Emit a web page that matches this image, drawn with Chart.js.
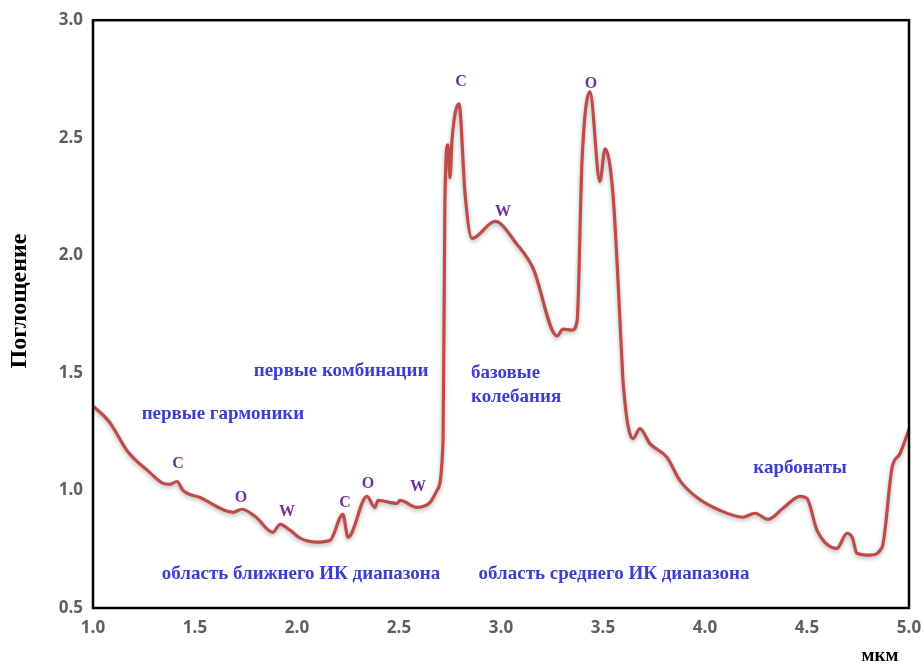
<!DOCTYPE html>
<html>
<head>
<meta charset="utf-8">
<script src="https://cdn.jsdelivr.net/npm/chart.js@4"></script>
<style>
  html, body { margin: 0; padding: 0; background: #fff; }
  #wrap { width: 924px; height: 665px; }
</style>
</head>
<body>
<div id="wrap"><canvas id="grafica" width="924" height="665"></canvas></div>
<script>
// Спектр поглощения, значения
const wavelength = [1.0, 1.083, 1.167, 1.279, 1.343, 1.377, 1.412, 1.441, 1.525, 1.686, 1.73, 1.794, 1.882, 1.917, 1.966, 2.015, 2.098, 2.162,
  2.225, 2.25, 2.343, 2.382, 2.397, 2.49, 2.505, 2.588, 2.652, 2.686, 2.716, 2.725, 2.74, 2.75, 2.76, 2.794, 2.824, 2.858, 2.971, 3.078,
  3.157, 3.275, 3.304, 3.348, 3.373, 3.397, 3.436, 3.485, 3.51, 3.549, 3.593, 3.598, 3.647, 3.681, 3.73, 3.814, 3.877, 3.961, 4.074,
  4.186, 4.245, 4.309, 4.382, 4.466, 4.5, 4.549, 4.647, 4.696, 4.721, 4.745, 4.809, 4.868, 4.917, 4.956, 5.0];
const absorbance = [1.36, 1.288, 1.169, 1.076, 1.03, 1.026, 1.038, 1.0, 0.97, 0.907, 0.92, 0.89, 0.822, 0.856, 0.831, 0.797, 0.78, 0.788,
  0.898, 0.801, 0.975, 0.928, 0.958, 0.945, 0.958, 0.928, 0.949, 1.0, 1.212, 2.229, 2.47, 2.33, 2.492, 2.644, 2.258, 2.072, 2.144, 2.047,
  1.945, 1.657, 1.686, 1.682, 1.72, 2.398, 2.695, 2.314, 2.453, 2.258, 1.551, 1.466, 1.22, 1.263, 1.199, 1.14, 1.042, 0.97, 0.915,
  0.886, 0.903, 0.877, 0.924, 0.975, 0.966, 0.831, 0.754, 0.818, 0.801, 0.733, 0.725, 0.758, 1.097, 1.157, 1.26];

const xTicks = [1.0, 1.5, 2.0, 2.5, 3.0, 3.5, 4.0, 4.5, 5.0];
const yTicks = [0.5, 1.0, 1.5, 2.0, 2.5, 3.0];

// Подписи областей (x, y в единицах данных)
const regionLabels = ['первые гармоники', 'первые комбинации', 'базовые', 'колебания', 'карбонаты',
  'область ближнего ИК диапазона', 'область среднего ИК диапазона'];
const regionX = [1.637, 2.216, 2.853, 2.853, 4.466, 2.02, 3.554];
const regionY = [1.326, 1.508, 1.5, 1.398, 1.097, 0.644, 0.644];
const regionAlign = ['center', 'center', 'left', 'left', 'center', 'center', 'center'];

// Обозначения полос C / O / W
const bandLabels = ['C', 'O', 'W', 'C', 'O', 'W', 'C', 'O', 'W'];
const bandX = [1.417, 1.725, 1.951, 2.235, 2.348, 2.593, 2.804, 3.441, 3.01];
const bandY = [1.114, 0.97, 0.911, 0.949, 1.03, 1.017, 2.737, 2.729, 2.186];

const yTitle = 'Поглощение';
const xTitle = 'мкм';

const pluginTextos = {
  id: 'textos',
  beforeDatasetDraw(chart) {
    const ctx = chart.ctx;
    ctx.save();
    ctx.shadowColor = 'rgba(0,0,0,0.3)';
    ctx.shadowBlur = 4;
    ctx.shadowOffsetY = 2;
  },
  afterDatasetDraw(chart) {
    chart.ctx.restore();
  },
  afterDraw(chart) {
    const ctx = chart.ctx;
    const xs = chart.scales.x;
    const ys = chart.scales.y;
    const a = chart.chartArea;
    ctx.save();
    // рамка
    ctx.strokeStyle = '#000';
    ctx.lineWidth = 2.5;
    ctx.strokeRect(a.left, a.top, a.right - a.left, a.bottom - a.top);

    ctx.textBaseline = 'middle';
    ctx.font = 'bold 19px "Liberation Serif", serif';
    ctx.fillStyle = '#3d3dd6';
    regionLabels.forEach((t, i) => {
      ctx.textAlign = regionAlign[i];
      ctx.fillText(t, xs.getPixelForValue(regionX[i]), ys.getPixelForValue(regionY[i]));
    });

    ctx.font = 'bold 16px "Liberation Serif", serif';
    ctx.fillStyle = '#7030a0';
    ctx.textAlign = 'center';
    bandLabels.forEach((t, i) => {
      ctx.fillText(t, xs.getPixelForValue(bandX[i]), ys.getPixelForValue(bandY[i]));
    });

    // подписи осей
    ctx.fillStyle = '#000';
    ctx.font = 'bold 19px "Liberation Serif", serif';
    ctx.fillText(xTitle, 880, 656);
    ctx.translate(20, 301);
    ctx.rotate(-Math.PI / 2);
    ctx.font = 'bold 24px "Liberation Serif", serif';
    ctx.fillText(yTitle, 0, 0);
    ctx.restore();
  }
};

new Chart(document.getElementById('grafica'), {
  type: 'line',
  data: {
    datasets: [{
      data: wavelength.map((x, i) => ({ x: x, y: absorbance[i] })),
      borderColor: '#be4b48',
      borderWidth: 3.2,
      pointRadius: 0,
      fill: false,
      cubicInterpolationMode: 'monotone'
    }]
  },
  options: {
    responsive: false,
    animation: false,
    layout: { padding: { left: 0, top: 17, right: 15, bottom: 0 } },
    plugins: {
      legend: { display: false },
      tooltip: { enabled: false }
    },
    scales: {
      x: {
        type: 'linear',
        min: 1.0,
        max: 5.0,
        afterBuildTicks: s => { s.ticks = xTicks.map(v => ({ value: v })); },
        afterFit: s => { s.height = 57; s.paddingLeft = 0; s.paddingRight = 0; },
        grid: { display: false, drawTicks: false },
        border: { display: false },
        ticks: {
          padding: 10,
          color: '#5f5f5f',
          font: { family: '"Open Sans", sans-serif', size: 17, weight: 'bold' },
          callback: v => v.toFixed(1)
        }
      },
      y: {
        min: 0.5,
        max: 3.0,
        afterBuildTicks: s => { s.ticks = yTicks.map(v => ({ value: v })); },
        afterFit: s => { s.width = 93; },
        grid: { display: false, drawTicks: false },
        border: { display: false },
        ticks: {
          padding: 10,
          color: '#5f5f5f',
          font: { family: '"Open Sans", sans-serif', size: 17, weight: 'bold' },
          callback: v => v.toFixed(1)
        }
      }
    }
  },
  plugins: [pluginTextos]
});
</script>
</body>
</html>
